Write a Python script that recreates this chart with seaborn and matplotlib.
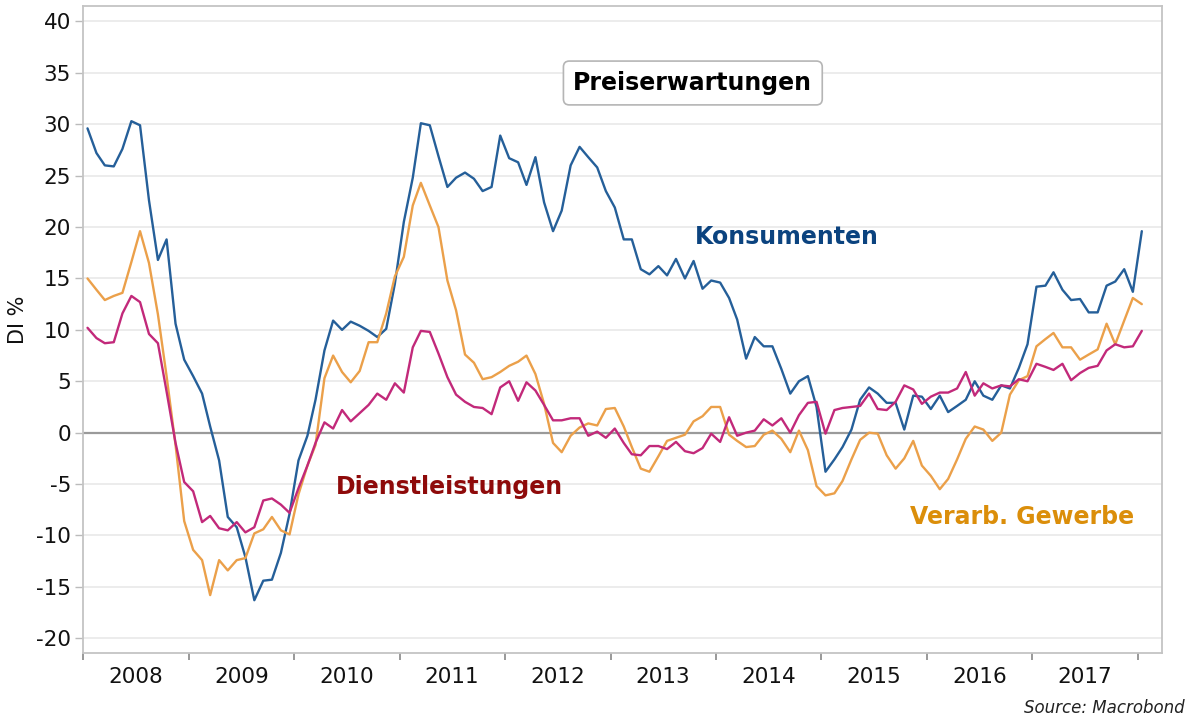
import pandas as pd
import matplotlib
matplotlib.use("Agg")
import matplotlib.pyplot as plt
import matplotlib.dates as mdates
import seaborn as sns

konsumenten = [
    29.6, 27.2, 26.0, 25.9, 27.6, 30.3, 29.9, 22.6, 16.8, 18.8,
    10.6, 7.1, 5.5, 3.8, 0.6, -2.7, -8.2, -9.2, -12.1, -16.3,
    -14.4, -14.3, -11.7, -7.9, -2.7, -0.3, 3.2, 8.0, 10.9, 10.0,
    10.8, 10.4, 9.9, 9.3, 10.1, 14.5, 20.5, 24.8, 30.1, 29.9,
    26.9, 23.9, 24.8, 25.3, 24.7, 23.5, 23.9, 28.9, 26.7, 26.3,
    24.1, 26.8, 22.4, 19.6, 21.6, 26.0, 27.8, 26.8, 25.8, 23.5,
    21.9, 18.8, 18.8, 15.9, 15.4, 16.2, 15.3, 16.9, 15.0, 16.7,
    14.0, 14.8, 14.6, 13.1, 11.0, 7.2, 9.3, 8.4, 8.4, 6.2,
    3.8, 5.0, 5.5, 2.5, -3.8, -2.6, -1.4, 0.3, 3.2, 4.4,
    3.8, 2.9, 2.9, 0.3, 3.6, 3.5, 2.3, 3.6, 2.0, 2.6,
    3.2, 5.0, 3.6, 3.2, 4.6, 4.3, 6.3, 8.6, 14.2, 14.3,
    15.6, 13.9, 12.9, 13.0, 11.7, 11.7, 14.3, 14.7, 15.9, 13.7,
    19.6,
]
verarb_gewerbe = [
    15.0, 13.9, 12.9, 13.3, 13.6, 16.6, 19.6, 16.5, 11.5, 5.5,
    -1.2, -8.6, -11.4, -12.4, -15.8, -12.4, -13.4, -12.4, -12.2, -9.8,
    -9.4, -8.2, -9.5, -9.9, -6.0, -3.2, -1.2, 5.3, 7.5, 5.9,
    4.9, 6.0, 8.8, 8.8, 11.6, 15.2, 17.1, 22.1, 24.3, 22.1,
    20.0, 14.8, 11.9, 7.6, 6.8, 5.2, 5.4, 5.9, 6.5, 6.9,
    7.5, 5.7, 2.8, -1.0, -1.9, -0.3, 0.5, 0.9, 0.7, 2.3,
    2.4, 0.6, -1.4, -3.5, -3.8, -2.3, -0.8, -0.5, -0.2, 1.1,
    1.6, 2.5, 2.5, -0.2, -0.8, -1.4, -1.3, -0.2, 0.2, -0.6,
    -1.9, 0.2, -1.7, -5.2, -6.1, -5.9, -4.7, -2.6, -0.7, 0.0,
    -0.1, -2.2, -3.5, -2.5, -0.8, -3.2, -4.2, -5.5, -4.5, -2.6,
    -0.6, 0.6, 0.3, -0.8, 0.0, 3.7, 5.1, 5.5, 8.4, 9.1,
    9.7, 8.3, 8.3, 7.1, 7.6, 8.1, 10.6, 8.6, 10.9, 13.1,
    12.5,
]
dienstleistungen = [
    10.2, 9.2, 8.7, 8.8, 11.6, 13.3, 12.7, 9.6, 8.7, 4.0,
    -1.0, -4.8, -5.7, -8.7, -8.1, -9.3, -9.5, -8.7, -9.7, -9.2,
    -6.6, -6.4, -7.0, -7.8, -5.4, -3.2, -1.0, 1.0, 0.4, 2.2,
    1.1, 1.9, 2.7, 3.8, 3.2, 4.8, 3.9, 8.3, 9.9, 9.8,
    7.7, 5.4, 3.7, 3.0, 2.5, 2.4, 1.8, 4.4, 5.0, 3.1,
    4.9, 4.1, 2.7, 1.2, 1.2, 1.4, 1.4, -0.3, 0.1, -0.5,
    0.4, -1.0, -2.1, -2.2, -1.3, -1.3, -1.6, -0.9, -1.8, -2.0,
    -1.5, -0.1, -0.9, 1.5, -0.3, 0.0, 0.2, 1.3, 0.7, 1.4,
    0.0, 1.7, 2.9, 3.0, -0.1, 2.2, 2.4, 2.5, 2.6, 3.8,
    2.3, 2.2, 3.0, 4.6, 4.2, 2.8, 3.5, 3.9, 3.9, 4.3,
    5.9, 3.6, 4.8, 4.3, 4.6, 4.5, 5.2, 5.0, 6.7, 6.4,
    6.1, 6.7, 5.1, 5.8, 6.3, 6.5, 8.0, 8.6, 8.3, 8.4,
    9.9,
]
y_ticks = [-20, -15, -10, -5, 0, 5, 10, 15, 20, 25, 30, 35, 40]

farben = {"Konsumenten": "#255f99", "Verarb. Gewerbe": "#eba04a", "Dienstleistungen": "#c2297a"}

datum = pd.date_range("2008-01-01", periods=len(konsumenten), freq="MS") + pd.Timedelta(days=14)
df = pd.DataFrame({
    "Datum": datum,
    "Konsumenten": konsumenten,
    "Verarb. Gewerbe": verarb_gewerbe,
    "Dienstleistungen": dienstleistungen,
})
df_long = df.melt(id_vars="Datum", var_name="Reihe", value_name="Wert")

sns.set_style("white")
plt.rcParams["font.family"] = ["DejaVu Sans"]
plt.rcParams["axes.unicode_minus"] = False

fig = plt.figure(figsize=(11.89, 7.18), dpi=100)
ax = fig.add_axes([0.0702, 0.091, 0.9071, 0.9006])

ax.yaxis.grid(True, color="#ebebeb", linewidth=1.3, zorder=0)
ax.axhline(0, color="#9a9a9a", linewidth=1.6, zorder=1)

sns.lineplot(data=df_long, x="Datum", y="Wert", hue="Reihe", palette=farben,
             linewidth=1.7, legend=False, ax=ax, zorder=3)

ax.set_ylim(-21.4, 41.5)
ax.set_yticks(y_ticks)
ax.set_xlim(pd.Timestamp("2008-01-01"), pd.Timestamp("2018-03-26"))

ax.xaxis.set_major_locator(mdates.YearLocator())
ax.xaxis.set_major_formatter(plt.NullFormatter())
ax.xaxis.set_minor_locator(mdates.MonthLocator(bymonth=7))
ax.xaxis.set_minor_formatter(mdates.DateFormatter("%Y"))
ax.tick_params(axis="x", which="major", length=5, width=1.2, color="#888888", direction="out", bottom=True)
ax.tick_params(axis="x", which="minor", length=0, labelsize=15.5, pad=10, labelcolor="#111111")
ax.tick_params(axis="y", length=6, width=1, color="#bbbbbb", direction="out", left=True,
               labelsize=15.5, pad=3, labelcolor="#111111")

for s in ax.spines.values():
    s.set_color("#c4c4c4")
    s.set_linewidth(1.3)

ax.set_xlabel("")
ax.set_ylabel("")
fig.text(18 / 1189, 1 - 320 / 718, "DI %", rotation=90, ha="center", va="center",
         fontsize=15, color="#111111")

ax.text(0.565, 0.881, "Preiserwartungen", transform=ax.transAxes, ha="center", va="center",
        fontsize=17, fontweight="bold", color="black",
        bbox=dict(boxstyle="round,pad=0.42,rounding_size=0.25", facecolor="white", edgecolor="#b5b5b5", linewidth=1.2))

ax.text(0.652, 0.643, "Konsumenten", transform=ax.transAxes, ha="center", va="center",
        fontsize=17, fontweight="bold", color="#0b437f", zorder=5)
ax.text(0.339, 0.256, "Dienstleistungen", transform=ax.transAxes, ha="center", va="center",
        fontsize=17, fontweight="bold", color="#8e0a0a", zorder=5)
ax.text(0.870, 0.210, "Verarb. Gewerbe", transform=ax.transAxes, ha="center", va="center",
        fontsize=17, fontweight="bold", color="#db8e0a", zorder=5)

fig.text(0.996, 0.014, "Source: Macrobond", ha="right", va="center", fontsize=12,
         style="italic", color="#222222")

fig.savefig("out.png", dpi=100)
